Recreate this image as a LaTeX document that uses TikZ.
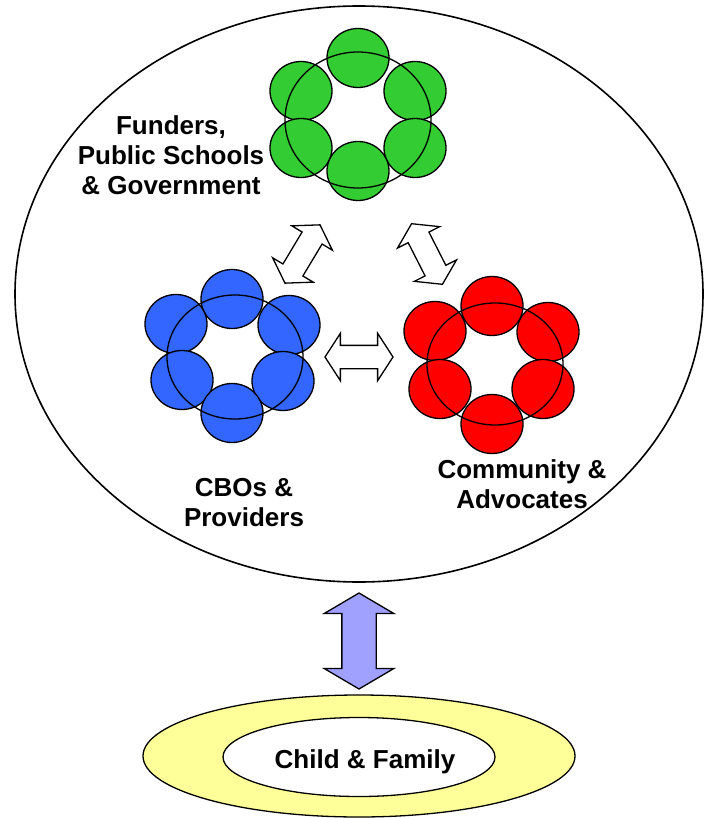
\documentclass[tikz,border=0pt]{standalone}
\usepackage{fontspec}
\setmainfont{Liberation Sans}
\usepackage{tikz}
\usetikzlibrary{shapes.arrows}
\usetikzlibrary{positioning}

\definecolor{grpgreen}{RGB}{51,204,51}
\definecolor{grpblue}{RGB}{51,102,255}
\definecolor{grpred}{RGB}{255,0,0}
\definecolor{linkblue}{RGB}{160,160,255}
\definecolor{homeyellow}{RGB}{255,255,153}

\begin{document}
\begin{tikzpicture}[x=1pt, y=-1pt, line width=1.3pt,
        grouptext/.style={align=center, font=\fontsize{26}{30}\selectfont\bfseries},
        link/.style={double arrow, draw=black, fill=white, inner xsep=0pt,
            inner ysep=11pt, minimum height=68pt,
            double arrow head extend=12pt, double arrow tip angle=114}]
        \useasboundingbox (0,0) rectangle (708,818);

        % outer group
        \draw[line width=1.6pt] (359,294) ellipse (344 and 288);

        % green group
        \foreach \dx/\dy in {0/-57, -57/-24, 57/-24, -57/33, 57/33, 0/56}
            \filldraw[fill=grpgreen] (358+\dx,115+\dy) ellipse (31 and 29.5);
        \draw (358,120) ellipse (73 and 68);

        % blue group
        \foreach \dx/\dy in {0/-57, -56/-32, 57/-31, -50/24, 51/25, 0/57}
            \filldraw[fill=grpblue] (232+\dx,356+\dy) ellipse (31 and 29.5);
        \draw (235,357) ellipse (68 and 62);

        % red group
        \foreach \dx/\dy in {0/-59, -57/-34, 56/-33, -52/24, 51/24, 0/59}
            \filldraw[fill=grpred] (492+\dx,365+\dy) ellipse (31 and 29.5);
        \draw (495,364) ellipse (68 and 61);

        \node[grouptext] (funders) at (171,155)
            {Funders,\\Public Schools\\\& Government};
        \node[grouptext] (cbos) at (244,503) {CBOs \&\\Providers};
        \node[grouptext] (community) at (522,484) {Community \&\\Advocates};

        % links between groups
        \node[link, rotate=59] (linkbg) at (302.5,254) {};
        \node[link, rotate=-63] (linkrg) at (427,254) {};
        \node[link] (linkbr) at (359,357) {};

        % child and family
        \filldraw[fill=homeyellow] (359,756) ellipse (216 and 61);
        \filldraw[fill=white] (359,757) ellipse (136 and 39.5);
        \node[grouptext] (family) at (365,762) {Child \& Family};

        \node[link, fill=linkblue, rotate=90, inner ysep=16.5pt,
            minimum height=96pt, double arrow head extend=17.5pt,
            double arrow tip angle=119] (linkfam) at (359,641) {};

    \end{tikzpicture}
\end{document}
